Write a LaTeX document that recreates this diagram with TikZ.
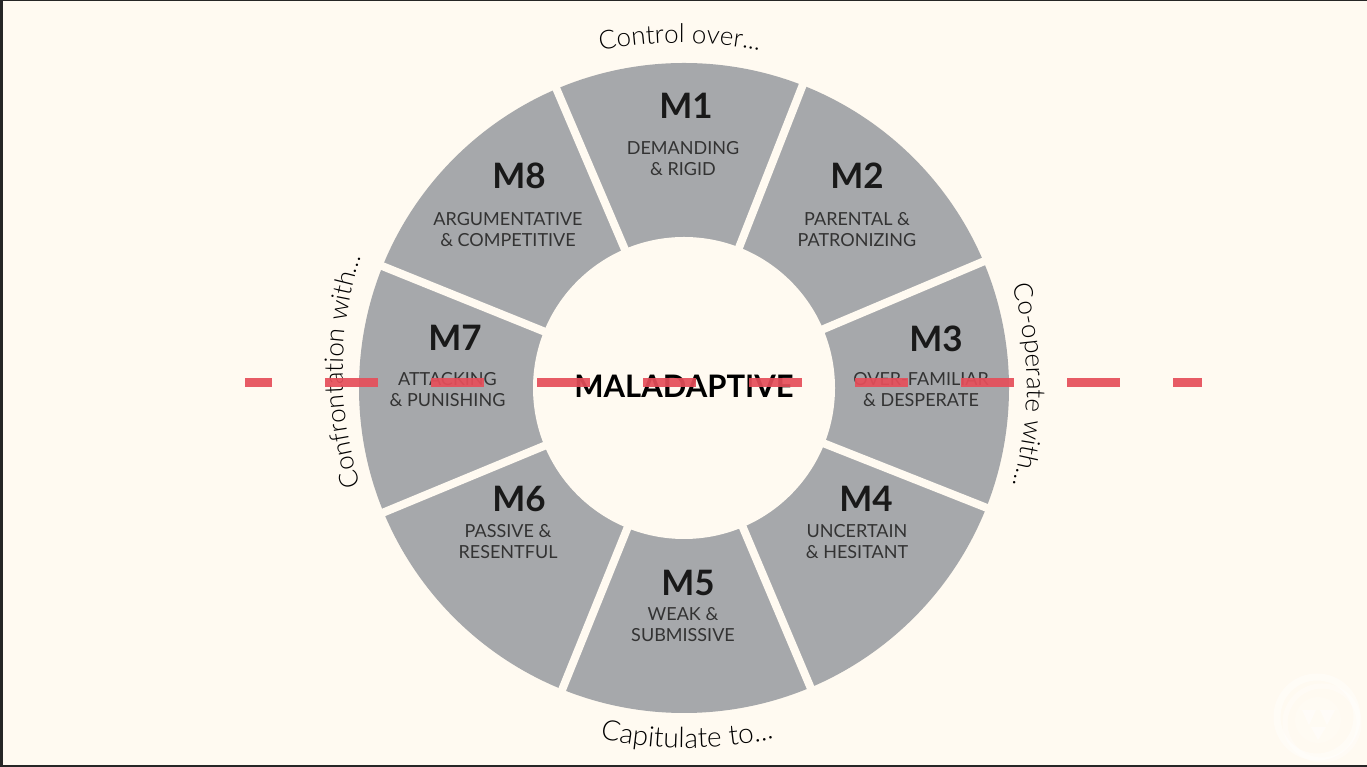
\documentclass[tikz,border=0pt]{standalone}
\usepackage{fontspec}
\setmainfont{Lato}
\newfontfamily\thinfamily{Lato Light}
\usetikzlibrary{decorations.text}
\definecolor{paper}{HTML}{FFFAF1}
\definecolor{ringgray}{HTML}{A6A8AB}
\definecolor{dashred}{HTML}{E64E5A}
\begin{document}
\begin{tikzpicture}[
  x=1pt, y=1pt,
  codelabel/.style={font=\fontsize{35}{35}\selectfont\bfseries, text=black!90},
  stylelabel/.style={font=\fontsize{18}{21}\selectfont, text=black!80, align=center, inner sep=0pt},
  hublabel/.style={font=\fontsize{31}{31}\selectfont\bfseries, text=black},
  gapline/.style={draw=paper, line width=8pt},
  midline/.style={draw=dashred, line width=9pt, opacity=0.92, dash pattern=on 53pt off 53pt, dash phase=26pt},
  curvedtext/.style 2 args={decorate, decoration={text along path, text align=center, text={|\thinfamily\fontsize{#1}{#1}\selectfont|#2}}},
]
  \useasboundingbox (0, 0) rectangle (1367, 767);
  \fill[paper] (0, 0) rectangle (1367, 767);
  \fill[black!85] (0, 0) rectangle (2.5, 767);
  \fill[black!85] (0, 765.5) rectangle (1367, 767);
  \fill[black!85] (0, 0) rectangle (1367, 1.5);

  % ring and the gaps between its sectors
  \coordinate (hub) at (684, 379);
  \fill[ringgray] (hub) circle (325);
  \foreach \ang in {22.9, 68.6, 113.1, 158, 202.5, 248, 292.9, 338.4} {
    \draw[gapline] ([shift={(\ang:140)}]hub) -- ([shift={(\ang:335)}]hub);
  }
  \fill[paper] (hub) circle (151);

  % logo
  \draw[white, opacity=0.4, line width=7pt] (1317, 50) circle (40);
  \draw[white, opacity=0.35, line width=5pt] (1322, 44) circle (37);
  \fill[white, opacity=0.2] (1318, 47) circle (23);
  \fill[white, opacity=0.45] (1302, 57) -- (1316, 57) -- (1309, 42) -- cycle;
  \fill[white, opacity=0.45] (1320, 57) -- (1335, 57) -- (1327, 42) -- cycle;
  \fill[white, opacity=0.45] (1311, 40) -- (1326, 40) -- (1318, 27) -- cycle;

  \node[codelabel] (m1) at (686, 661) {M1};
  \node[stylelabel] (t1) at (683, 608.5) {DEMANDING\\\& RIGID};
  \node[codelabel] (m2) at (857, 591) {M2};
  \node[stylelabel] (t2) at (857, 537.5) {PARENTAL \&\\PATRONIZING};
  \node[codelabel] (m3) at (936, 428) {M3};
  \node[stylelabel] (t3) at (921, 377.5) {OVER-FAMILIAR\\\& DESPERATE};
  \node[codelabel] (m4) at (866, 268) {M4};
  \node[stylelabel] (t4) at (857, 225) {UNCERTAIN\\\& HESITANT};
  \node[codelabel] (m5) at (688, 184) {M5};
  \node[stylelabel] (t5) at (683, 142) {WEAK \&\\SUBMISSIVE};
  \node[codelabel] (m6) at (519, 268) {M6};
  \node[stylelabel] (t6) at (508, 225) {PASSIVE \&\\RESENTFUL};
  \node[codelabel] (m7) at (455, 429) {M7};
  \node[stylelabel] (t7) at (447.5, 377.5) {ATTACKING\\\& PUNISHING};
  \node[codelabel] (m8) at (519, 591) {M8};
  \node[stylelabel] (t8) at (508, 537.5) {ARGUMENTATIVE\\\& COMPETITIVE};
  \node[hublabel] (hubtext) at (684, 381) {MALADAPTIVE};

  % text round the ring
  \path[curvedtext={26}{Control over...}] (680, 324) ++(105:400) arc[start angle=105, end angle=75, radius=400];
  \path[curvedtext={28}{Capitulate to...}] (687, 419) ++(255:400) arc[start angle=255, end angle=285, radius=400];
  \path[curvedtext={26}{Co-operate with...}] (680, 382) ++(20:347) arc[start angle=20, end angle=-20, radius=347];
  \path[curvedtext={26}{Confrontation with...}] (713, 396) ++(202:370) arc[start angle=202, end angle=158, radius=370];

  \coordinate (dashL) at (245, 384.5);
  \coordinate (dashR) at (1202, 384.5);
  \draw[midline] (dashL) -- (dashR);
\end{tikzpicture}
\end{document}
